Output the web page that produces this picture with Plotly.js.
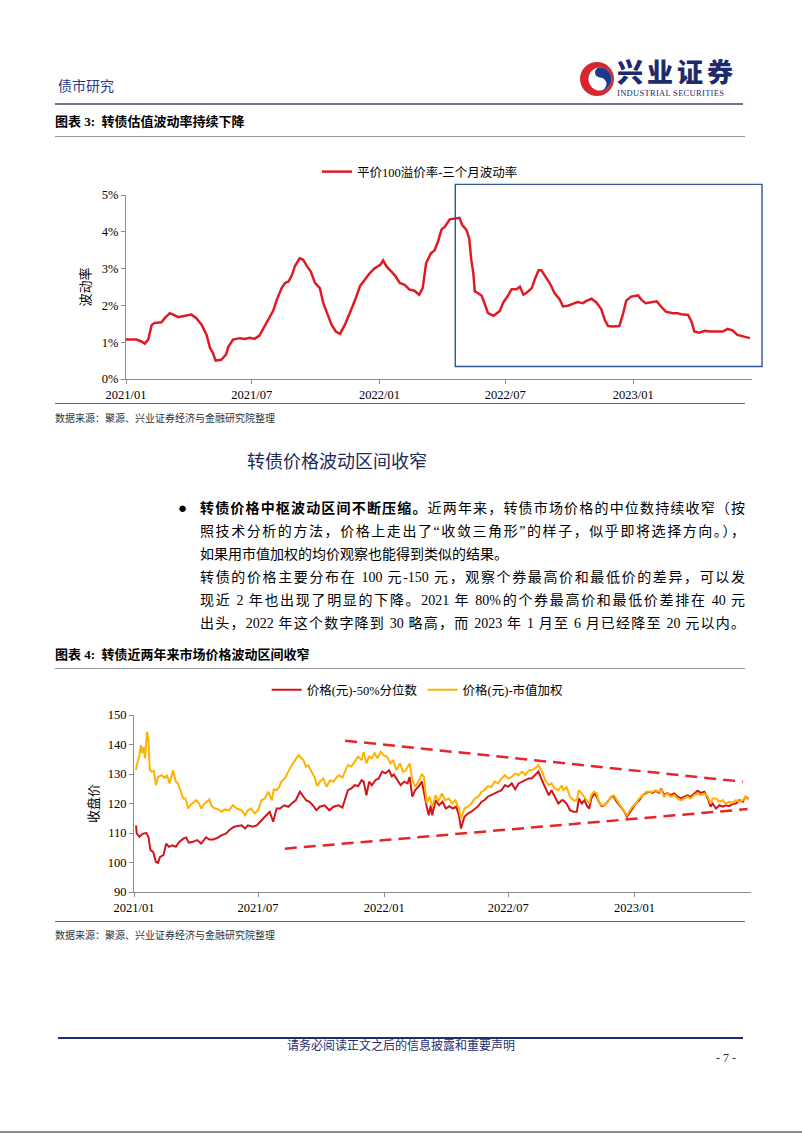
<!DOCTYPE html>
<html><head><meta charset="utf-8">
<script src="https://cdn.plot.ly/plotly-3.0.1.min.js"></script>
<style>
body{margin:0;background:#fff;}
#page{position:relative;width:802px;height:1133px;overflow:hidden;background:#fff;font-family:"Liberation Serif","Noto Sans CJK SC",serif;color:#000;}
.abs{position:absolute;white-space:nowrap;}
.rule{position:absolute;height:1px;}
.pl{position:absolute;left:200px;width:545px;font-size:14px;line-height:23px;height:23px;white-space:nowrap;overflow:visible;}
.j{text-align:justify;text-align-last:justify;}
</style>
</head><body>
<div id="page">
  <div class="abs" style="left:58px;top:78px;font-size:14px;line-height:18px;color:#2a3b86;">债市研究</div>
  <svg class="abs" style="left:578px;top:58px;" width="38" height="42" viewBox="0 0 38 42">
    <circle cx="19" cy="21" r="17" fill="#d7262e"/>
    <circle cx="22" cy="21" r="11.5" fill="#fff"/>
    <path d="M22 9.5 A11.5 11.5 0 0 1 22 32.5 A6.5 6.5 0 0 0 22 19.5 A5 5 0 0 1 22 9.5Z" fill="#1f3a8a"/>
  </svg>
  <div class="abs" style="left:617px;top:57px;font-size:26px;line-height:28px;font-weight:900;color:#1d2a6b;letter-spacing:4px;font-family:'Noto Sans CJK SC',sans-serif;">兴业证券</div>
  <div class="abs" style="left:617px;top:88px;font-size:8.5px;line-height:10px;color:#1d2a6b;letter-spacing:0.3px;">INDUSTRIAL SECURITIES</div>
  <div class="rule" style="left:55px;top:103px;width:688px;height:2px;background:#6b7394;"></div>

  <div class="abs" style="left:55px;top:114px;font-size:13px;line-height:16px;font-weight:bold;">图表 3:&nbsp; 转债估值波动率持续下降</div>
  <div class="rule" style="left:55px;top:136px;width:690px;background:#9a9a9a;"></div>
  <div id="chart1" class="abs" style="left:0;top:150px;width:802px;height:260px;"></div>
  <div class="rule" style="left:55px;top:403px;width:690px;background:#666;"></div>
  <div class="abs" style="left:55px;top:412px;font-size:10px;line-height:14px;color:#333;">数据来源：聚源、兴业证券经济与金融研究院整理</div>

  <div class="abs" style="left:247px;top:451px;font-size:18px;line-height:22px;color:#1f2858;">转债价格波动区间收窄</div>
  <div class="abs" style="left:178px;top:498px;font-size:15px;line-height:20px;">●</div>
  <div class="pl j" style="top:497px;"><b>转债价格中枢波动区间不断压缩。</b>近两年来，转债市场价格的中位数持续收窄（按</div>
  <div class="pl j" style="top:520px;">照技术分析的方法，价格上走出了“收敛三角形”的样子，似乎即将选择方向。），</div>
  <div class="pl" style="top:543px;">如果用市值加权的均价观察也能得到类似的结果。</div>
  <div class="pl j" style="top:566px;">转债的价格主要分布在 100 元-150 元，观察个券最高价和最低价的差异，可以发</div>
  <div class="pl j" style="top:589px;">现近 2 年也出现了明显的下降。2021 年 80%的个券最高价和最低价差排在 40 元</div>
  <div class="pl j" style="top:612px;">出头，2022 年这个数字降到 30 略高，而 2023 年 1 月至 6 月已经降至 20 元以内。</div>

  <div class="abs" style="left:55px;top:647px;font-size:13px;line-height:16px;font-weight:bold;">图表 4:&nbsp; 转债近两年来市场价格波动区间收窄</div>
  <div class="rule" style="left:55px;top:668px;width:690px;background:#9a9a9a;"></div>
  <div id="chart2" class="abs" style="left:0;top:675px;width:802px;height:245px;"></div>
  <div class="rule" style="left:55px;top:921px;width:690px;background:#666;"></div>
  <div class="abs" style="left:55px;top:929px;font-size:10px;line-height:14px;color:#333;">数据来源：聚源、兴业证券经济与金融研究院整理</div>

  <div class="rule" style="left:58px;top:1037px;width:685px;height:2px;background:#232d6e;"></div>
  <div class="abs" style="left:0;width:802px;text-align:center;top:1039px;font-size:12px;line-height:14px;color:#232d6e;">请务必阅读正文之后的信息披露和重要声明</div>
  <div class="abs" style="left:716px;top:1051px;font-size:12px;line-height:14px;color:#333;">- 7 -</div>
  <div class="rule" style="left:0;top:1131px;width:802px;height:2px;background:#8a8a8a;"></div>
</div>
<script>
// ---------- 图表3 data ----------
var volName = '平价100溢价率-三个月波动率';
var volDates = ['2021-01-01','2021-01-16','2021-01-23','2021-01-28','2021-02-02','2021-02-07','2021-02-11','2021-02-21','2021-02-26','2021-03-05','2021-03-10','2021-03-17','2021-03-27','2021-04-05','2021-04-12','2021-04-20','2021-04-27','2021-05-02','2021-05-06','2021-05-10','2021-05-18','2021-05-25','2021-05-28','2021-06-04','2021-06-14','2021-06-21','2021-06-28','2021-07-05','2021-07-12','2021-07-17','2021-07-22','2021-07-27','2021-08-01','2021-08-06','2021-08-13','2021-08-18','2021-08-23','2021-08-28','2021-09-01','2021-09-08','2021-09-13','2021-09-18','2021-09-24','2021-09-30','2021-10-07','2021-10-12','2021-10-17','2021-10-24','2021-10-30','2021-11-05','2021-11-12','2021-11-19','2021-11-26','2021-12-04','2021-12-11','2021-12-18','2021-12-25','2022-01-02','2022-01-06','2022-01-11','2022-01-18','2022-01-24','2022-01-30','2022-02-06','2022-02-13','2022-02-20','2022-02-27','2022-03-04',
'2022-03-09','2022-03-16','2022-03-21','2022-03-26','2022-03-31','2022-04-05','2022-04-12','2022-04-19','2022-04-26','2022-04-30','2022-05-06','2022-05-10','2022-05-13','2022-05-16','2022-05-18','2022-05-23','2022-05-28','2022-06-02','2022-06-06','2022-06-14','2022-06-19','2022-06-23','2022-06-28','2022-07-04','2022-07-10','2022-07-17','2022-07-22','2022-07-27','2022-08-01','2022-08-08','2022-08-13','2022-08-18','2022-08-22','2022-08-27','2022-09-03','2022-09-10','2022-09-17','2022-09-22','2022-09-29','2022-10-06','2022-10-13','2022-10-21','2022-10-25','2022-11-02','2022-11-09','2022-11-16','2022-11-21','2022-11-26','2022-12-03','2022-12-12','2022-12-17','2022-12-22','2022-12-29','2023-01-08','2023-01-13','2023-01-19','2023-01-27','2023-02-04','2023-02-10','2023-02-17','2023-02-27','2023-03-06','2023-03-11','2023-03-21','2023-03-26','2023-03-30','2023-04-06','2023-04-14','2023-04-21','2023-05-03','2023-05-10','2023-05-17','2023-05-24','2023-05-31','2023-06-07','2023-06-18'];
var volValues = [1.07,1.07,1.02,0.96,1.07,1.47,1.52,1.54,1.66,1.79,1.75,1.68,1.72,1.75,1.66,1.47,1.20,0.84,0.71,0.50,0.52,0.66,0.86,1.07,1.11,1.09,1.12,1.09,1.18,1.34,1.54,1.66,1.86,2.15,2.47,2.61,2.65,2.83,3.06,3.28,3.24,3.08,2.92,2.61,2.47,2.06,1.79,1.47,1.29,1.23,1.47,1.79,2.11,2.53,2.70,2.88,3.01,3.10,3.22,3.06,2.92,2.79,2.61,2.56,2.43,2.40,2.29,2.47,
3.15,3.42,3.49,3.73,4.06,4.14,4.34,4.36,4.38,4.18,4.05,3.82,3.23,2.87,2.38,2.33,2.26,2.01,1.79,1.72,1.79,1.85,2.08,2.24,2.44,2.44,2.51,2.29,2.35,2.47,2.74,2.96,2.95,2.80,2.60,2.33,2.17,1.97,1.99,2.04,2.09,2.06,2.12,2.18,2.08,1.90,1.61,1.44,1.43,1.44,1.74,2.13,2.24,2.27,2.15,2.06,2.08,2.11,1.97,1.83,1.79,1.79,1.76,1.74,1.56,1.29,1.26,1.31,1.29,1.29,1.29,1.36,1.32,1.20,1.16,1.11];
var volTickSuffix = '%';

// ---------- 图表4 data ----------
var medName = '价格(元)-50%分位数';
var wtdName = '价格(元)-市值加权';
var wtdDates = ['2021-01-04','2021-01-05','2021-01-09','2021-01-11','2021-01-13','2021-01-15','2021-01-17','2021-01-20','2021-01-22','2021-01-24','2021-01-27','2021-01-30','2021-02-02','2021-02-05','2021-02-10','2021-02-15','2021-02-18','2021-02-22','2021-02-27','2021-03-03','2021-03-06','2021-03-10','2021-03-14','2021-03-17','2021-03-21','2021-03-24','2021-03-28','2021-04-02','2021-04-06','2021-04-09','2021-04-13','2021-04-17','2021-04-21','2021-04-24','2021-04-29','2021-05-04','2021-05-09','2021-05-13','2021-05-20','2021-05-25','2021-05-31','2021-06-07','2021-06-12','2021-06-16','2021-06-21','2021-06-26','2021-07-01','2021-07-06','2021-07-11','2021-07-16','2021-07-21','2021-07-24','2021-07-28','2021-08-01','2021-08-04','2021-08-09','2021-08-14','2021-08-19','2021-08-24','2021-08-29','2021-09-01','2021-09-05','2021-09-09','2021-09-12','2021-09-17','2021-09-22','2021-09-25','2021-09-29','2021-10-04','2021-10-09','2021-10-14','2021-10-19','2021-10-24',
'2021-10-27','2021-11-01','2021-11-05','2021-11-09','2021-11-14','2021-11-19','2021-11-24','2021-11-29','2021-12-02','2021-12-06','2021-12-10','2021-12-14','2021-12-18','2021-12-22','2021-12-27','2021-12-31','2022-01-05','2022-01-10','2022-01-14','2022-01-19','2022-01-24','2022-01-28','2022-02-01','2022-02-07','2022-02-11','2022-02-15','2022-02-21','2022-02-25','2022-02-28','2022-03-04','2022-03-08','2022-03-12','2022-03-17','2022-03-21','2022-03-26','2022-03-31','2022-04-05','2022-04-10','2022-04-15','2022-04-20','2022-04-23','2022-04-28','2022-05-03','2022-05-08','2022-05-13','2022-05-18','2022-05-23','2022-05-27','2022-06-01','2022-06-06','2022-06-11','2022-06-16','2022-06-21','2022-06-26','2022-07-01','2022-07-06','2022-07-11','2022-07-16','2022-07-21','2022-07-26','2022-07-31','2022-08-04','2022-08-09','2022-08-14','2022-08-19','2022-08-24','2022-08-29','2022-09-02','2022-09-07','2022-09-12','2022-09-17',
'2022-09-19','2022-09-24','2022-09-29','2022-10-04','2022-10-09','2022-10-12','2022-10-16','2022-10-20','2022-10-24','2022-10-27','2022-10-30','2022-11-03','2022-11-07','2022-11-10','2022-11-14','2022-11-18','2022-11-23','2022-11-28','2022-12-02','2022-12-06','2022-12-11','2022-12-16','2022-12-21','2022-12-24','2022-12-29','2023-01-03','2023-01-08','2023-01-13','2023-01-18','2023-01-23','2023-01-27','2023-02-01','2023-02-06','2023-02-09','2023-02-13','2023-02-18','2023-02-23','2023-02-28','2023-03-05','2023-03-10','2023-03-15','2023-03-19','2023-03-24','2023-03-29','2023-04-03','2023-04-08','2023-04-13','2023-04-18','2023-04-22','2023-04-25','2023-04-30','2023-05-05','2023-05-10','2023-05-14','2023-05-19','2023-05-24','2023-05-29','2023-06-03','2023-06-08','2023-06-12','2023-06-16'];
var wtdValues = [131.3,133,136.4,139.8,137,139.2,135.3,144.3,142,131.3,130.8,131.1,126.2,129,129.6,128.7,129.6,126.8,131.3,127.4,126.8,124,121.7,121.7,118.3,119.4,120.2,121.1,120,118.3,119.8,120.6,121.4,119.1,118.3,118,117.2,118,117.7,119.4,118.3,117.7,116,117.7,118.3,116.6,117.7,121.1,121.7,124,121.1,124.8,124.5,125.7,127.4,128.5,130.8,133,134.7,136.4,135.6,134.7,132.5,133,130.8,128.5,125.9,127.4,128.5,125.7,127.9,127.4,129,
129.6,128.8,130.8,133,132.5,134.2,135.9,134.7,137.5,133.6,135.9,135.3,137.2,135.3,137.5,136.4,135.9,133.6,134.7,131.3,133.6,130.8,131.1,133.6,127.9,125.7,127.9,130,129,120,122.3,118.9,122.8,120.6,123.4,121.1,121.7,120,121.1,118.3,114.9,118.3,118.9,120,121.7,122.3,124,124.5,125.9,125.5,127.4,126.8,128.5,129.6,128.5,129,130.2,129.6,130.8,129.6,131.3,131.3,131.9,133,130.8,127.9,126.2,126.8,125.1,124.5,126.2,
124.5,125.5,122.3,121.1,121.1,124.5,123.4,122.3,121.1,120,122.8,124,123.4,120.6,119.4,119.4,120.6,122.3,122.8,121.1,119.4,117.7,116,117.2,118.9,120,121.7,122.8,124,124,124,124.5,124,124.8,122.3,123.4,122.3,122.8,121.7,121.1,121.7,122.3,121.7,122.8,123.4,122.8,123.4,122.3,120,121.7,121.7,120.6,121.1,120,120.6,120.2,121.1,120.6,121.1,122.3,121.1];
var medDates = ['2021-01-04','2021-01-05','2021-01-09','2021-01-14','2021-01-19','2021-01-22','2021-01-25','2021-01-29','2021-02-02','2021-02-05','2021-02-08','2021-02-13','2021-02-17','2021-02-21','2021-02-26','2021-03-03','2021-03-08','2021-03-14','2021-03-18','2021-03-22','2021-03-28','2021-04-03','2021-04-09','2021-04-16','2021-04-21','2021-04-27','2021-05-04','2021-05-09','2021-05-15','2021-05-21','2021-05-27','2021-06-02','2021-06-07','2021-06-12','2021-06-16','2021-06-23','2021-06-29','2021-07-04','2021-07-08','2021-07-13','2021-07-18','2021-07-23','2021-07-28','2021-08-02','2021-08-08','2021-08-14','2021-08-19','2021-08-25','2021-08-31','2021-09-04','2021-09-09','2021-09-14','2021-09-19','2021-09-24','2021-09-29','2021-10-06','2021-10-13','2021-10-19','2021-10-26',
'2021-11-01','2021-11-04','2021-11-09','2021-11-14','2021-11-19','2021-11-24','2021-11-29','2021-12-02','2021-12-06','2021-12-10','2021-12-14','2021-12-19','2021-12-24','2021-12-29','2022-01-03','2022-01-08','2022-01-12','2022-01-15','2022-01-20','2022-01-25','2022-01-30','2022-02-04','2022-02-07','2022-02-11','2022-02-15','2022-02-20','2022-02-25','2022-02-28','2022-03-04','2022-03-07','2022-03-10','2022-03-12','2022-03-17','2022-03-22','2022-03-27','2022-04-01','2022-04-06','2022-04-11','2022-04-16','2022-04-20','2022-04-23','2022-04-28','2022-05-03','2022-05-08','2022-05-13','2022-05-18','2022-05-23','2022-05-27','2022-06-01','2022-06-06','2022-06-11','2022-06-16','2022-06-21','2022-06-26','2022-07-01','2022-07-06','2022-07-11','2022-07-16','2022-07-21','2022-07-26','2022-07-31','2022-08-04','2022-08-09','2022-08-14','2022-08-19','2022-08-24','2022-08-29','2022-09-02','2022-09-07','2022-09-12','2022-09-17',
'2022-09-19','2022-09-24','2022-09-29','2022-10-04','2022-10-09','2022-10-12','2022-10-16','2022-10-20','2022-10-24','2022-10-27','2022-10-30','2022-11-03','2022-11-07','2022-11-10','2022-11-14','2022-11-18','2022-11-23','2022-11-28','2022-12-02','2022-12-06','2022-12-11','2022-12-16','2022-12-21','2022-12-24','2022-12-29','2023-01-03','2023-01-08','2023-01-13','2023-01-18','2023-01-23','2023-01-27','2023-02-01','2023-02-06','2023-02-09','2023-02-13','2023-02-18','2023-02-23','2023-02-28','2023-03-05','2023-03-10','2023-03-15','2023-03-19','2023-03-24','2023-03-29','2023-04-03','2023-04-08','2023-04-13','2023-04-18','2023-04-22','2023-04-25','2023-04-30','2023-05-05','2023-05-10','2023-05-14','2023-05-19','2023-05-24','2023-05-29','2023-06-03','2023-06-08','2023-06-12','2023-06-16'];
var medValues = [112.6,109.8,108.7,109.8,110,108.7,104.2,103.6,100.2,99.9,101.9,102.5,106.4,105.3,105.8,105.3,107,108.1,108.5,106.7,107,107.6,106.4,108.5,107.8,107.8,108.5,109.3,109.8,111.2,112.1,112.3,112.6,111.5,112.6,112.1,112.6,113.8,114.9,116,117.2,113.8,118.3,118.3,119.4,118.9,120,121.1,124,122.8,121.1,120.6,119.4,117.7,118.9,119.4,117.7,118.9,119.4,
118.6,121.1,124.5,125.1,126.2,125.9,127.9,127.4,122.8,127.4,126.2,127.9,128.5,130.8,130.2,131.3,129.2,129.8,127.9,126.2,127.4,126.8,129,122.3,124.5,125.7,127.4,123.4,118.9,116,119.4,116,121.1,119.4,120.6,118.3,119.1,118.3,118.9,116,111.5,115.5,116.6,117.2,118.3,119.1,120.6,121.1,122.3,122.8,123.4,124,124.5,126.2,125.7,126.8,124.8,126.8,127.4,127.9,128.5,128.5,129.6,130.8,127.9,125.1,122.8,124.5,122.3,120,121.1,
121.1,120,117.7,117.2,117.2,121.7,120,121.1,119.1,118.3,121.7,123.4,122.3,120.6,119.1,119.4,120.6,122.3,122.3,120.6,119.1,117.7,115.5,116.6,118.3,120,121.1,122.8,123.6,124,123.6,124.3,123.6,125.1,122.8,123.6,122.8,123.4,122.3,121.7,122.3,122.8,122.3,123.4,124.3,123.6,124,121.7,118.9,120,118.3,119.4,118.9,119.4,119.1,119.8,120,121.1,120.6,122.3,121.7];
// 收敛三角形 trend lines
var upperDates = ['2021-11-05','2023-06-08'];
var upperValues = [141.3,127.4];
var lowerDates = ['2021-08-09','2023-06-15'];
var lowerValues = [104.7,118.1];

var FONT = '"Liberation Serif","Noto Sans CJK SC",serif';
var AX = {showline:true, linecolor:'#8c8c8c', linewidth:1, ticks:'outside', ticklen:4, tickcolor:'#8c8c8c',
          showgrid:false, zeroline:false, tickfont:{size:12.5, color:'#000'}};

Plotly.newPlot('chart1', [{
  type:'scatter', mode:'lines', name:volName, x:volDates, y:volValues,
  line:{color:'#e01a22', width:2.5}
}], {
  width:802, height:260, margin:{l:126, r:50, t:45, b:31, autoexpand:false},
  paper_bgcolor:'rgba(0,0,0,0)', plot_bgcolor:'rgba(0,0,0,0)',
  font:{family:FONT, size:12, color:'#000'},
  showlegend:true,
  legend:{orientation:'h', x:0.305, xanchor:'left', y:1.125, yanchor:'middle', font:{size:12.5}, bgcolor:'rgba(0,0,0,0)'},
  xaxis:Object.assign({}, AX, {type:'date', range:['2021-01-01','2023-06-21'], tick0:'2021-01-01', dtick:'M6', tickformat:'%Y/%m'}),
  yaxis:Object.assign({}, AX, {range:[0,5], dtick:1, ticksuffix:volTickSuffix, title:{text:'波动率', font:{size:13}, standoff:8}}),
  shapes:[{type:'rect', xref:'paper', yref:'paper', x0:0.526, x1:1.016, y0:0.068, y1:1.058, line:{color:'#33559a', width:1.4}}]
}, {staticPlot:true, displayModeBar:false});

Plotly.newPlot('chart2', [
  {type:'scatter', mode:'lines', name:medName, x:medDates, y:medValues, line:{color:'#d4141c', width:2}},
  {type:'scatter', mode:'lines', name:wtdName, x:wtdDates, y:wtdValues, line:{color:'#ffb300', width:2}},
  {type:'scatter', mode:'lines', showlegend:false, x:upperDates, y:upperValues, line:{color:'#e8242b', width:2.5, dash:'12px,7px'}},
  {type:'scatter', mode:'lines', showlegend:false, x:lowerDates, y:lowerValues, line:{color:'#e8242b', width:2.5, dash:'12px,7px'}}
], {
  width:802, height:245, margin:{l:134, r:51, t:40, b:28, autoexpand:false},
  paper_bgcolor:'rgba(0,0,0,0)', plot_bgcolor:'rgba(0,0,0,0)',
  font:{family:FONT, size:12, color:'#000'},
  showlegend:true,
  legend:{orientation:'h', x:0.215, xanchor:'left', y:1.14, yanchor:'middle', font:{size:12.5}, bgcolor:'rgba(0,0,0,0)'},
  xaxis:Object.assign({}, AX, {type:'date', range:['2021-01-01','2023-06-20'], tick0:'2021-01-01', dtick:'M6', tickformat:'%Y/%m'}),
  yaxis:Object.assign({}, AX, {range:[90,150], dtick:10, title:{text:'收盘价', font:{size:13}}})
}, {staticPlot:true, displayModeBar:false});
</script>
</body></html>
